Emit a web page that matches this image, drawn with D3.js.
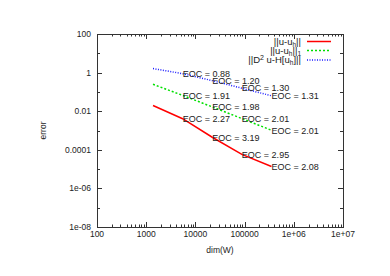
<!DOCTYPE html>
<html lang="en">
<head>
<meta charset="utf-8">
<title>EOC plot</title>
<style type="text/css">
	body { margin: 0; padding: 0; background: white; }
	svg { display: block; font-family: 'Liberation Sans', Arial, sans-serif; }
	.tick-label { font-size: 8.5px; fill: #222; }
	.eoc { font-size: 9px; fill: #222; }
	.legend text { font-size: 9.5px; fill: #222; }
</style>
</head>
<body>
<div id="chart"></div>
<script src="https://d3js.org/d3.v7.min.js"></script>
<script type="text/javascript">

	// degrees of freedom per refinement level
	const dims = [1375, 5500, 22000, 88000, 352000];

	// error norms per level
	const errL2 = [0.0197, 0.004085, 0.0004476, 0.00005793, 0.00001370];
	const errH1 = [0.248, 0.066, 0.01673, 0.004154, 0.001031];
	const errH2 = [1.62, 0.88, 0.383, 0.156, 0.0628];

	// experimental orders of convergence (shown at levels 1..4)
	const eocL2 = ["2.27", "3.19", "2.95", "2.08"];
	const eocH1 = ["1.91", "1.98", "2.01", "2.01"];
	const eocH2 = ["0.88", "1.20", "1.30", "1.31"];

	const xTicks = [100, 1000, 10000, 100000, 1e6, 1e7];
	const xTickLabels = ["100", "1000", "10000", "100000", "1e+06", "1e+07"];
	const yTicks = [100, 1, 0.01, 0.0001, 1e-6, 1e-8];
	const yTickLabels = ["100", "1", "0.01", "0.0001", "1e-06", "1e-08"];

	const width = 390,
		height = 276,
		padLeft = 97, padRight = 343, padTop = 34, padBottom = 227;

	const svg = d3.select("#chart")
		.append("svg")
		.attr("width", width)
		.attr("height", height);

	const xScale = d3.scaleLog()
		.domain([100, 1e7])
		.range([padLeft, padRight]);

	const yScale = d3.scaleLog()
		.domain([1e-8, 100])
		.range([padBottom, padTop]);

	const axisColor = "#333";
	const ticks = svg.append("g").attr("stroke", axisColor).attr("stroke-width", 1);

	// x ticks: major at decades, minor at 2..9
	xTicks.forEach(function(t, i){
		const x = Math.round(xScale(t)) + 0.5;
		ticks.append("line").attr("x1", x).attr("x2", x).attr("y1", padBottom).attr("y2", padBottom - 5);
		ticks.append("line").attr("x1", x).attr("x2", x).attr("y1", padTop).attr("y2", padTop + 5);
		svg.append("text")
			.attr("class", "tick-label")
			.attr("x", xScale(t))
			.attr("y", padBottom + 10)
			.attr("text-anchor", "middle")
			.text(xTickLabels[i]);
		if (i < xTicks.length - 1) {
			d3.range(2, 10).forEach(function(m){
				const xm = Math.round(xScale(t * m)) + 0.5;
				ticks.append("line").attr("x1", xm).attr("x2", xm).attr("y1", padBottom).attr("y2", padBottom - 2.5);
				ticks.append("line").attr("x1", xm).attr("x2", xm).attr("y1", padTop).attr("y2", padTop + 2.5);
			});
		}
	});

	// y ticks: labelled every two decades, unlabelled in between
	yTicks.forEach(function(t, i){
		const y = Math.round(yScale(t)) + 0.5;
		ticks.append("line").attr("x1", padLeft).attr("x2", padLeft + 5).attr("y1", y).attr("y2", y);
		ticks.append("line").attr("x1", padRight).attr("x2", padRight - 5).attr("y1", y).attr("y2", y);
		svg.append("text")
			.attr("class", "tick-label")
			.attr("x", padLeft - 6)
			.attr("y", yScale(t) + 3)
			.attr("text-anchor", "end")
			.text(yTickLabels[i]);
		if (i < yTicks.length - 1) {
			const ym = Math.round(yScale(t / 10)) + 0.5;
			ticks.append("line").attr("x1", padLeft).attr("x2", padLeft + 3).attr("y1", ym).attr("y2", ym);
			ticks.append("line").attr("x1", padRight).attr("x2", padRight - 3).attr("y1", ym).attr("y2", ym);
		}
	});

	// border
	svg.append("rect")
		.attr("x", padLeft + 0.5)
		.attr("y", padTop + 0.5)
		.attr("width", padRight - padLeft)
		.attr("height", padBottom - padTop)
		.attr("fill", "none")
		.attr("stroke", axisColor);

	// axis titles
	svg.append("text")
		.attr("class", "tick-label")
		.attr("x", (padLeft + padRight) / 2)
		.attr("y", 253)
		.attr("text-anchor", "middle")
		.text("dim(W)");

	svg.append("text")
		.attr("class", "tick-label")
		.attr("transform", "translate(46," + ((padTop + padBottom) / 2) + ") rotate(-90)")
		.attr("text-anchor", "middle")
		.text("error");

	const series = [
		{values: errL2, eoc: eocL2, color: "#ff0000", dash: null, width: 1.5},
		{values: errH1, eoc: eocH1, color: "#00e000", dash: "2,2", width: 1.5},
		{values: errH2, eoc: eocH2, color: "#1a1aff", dash: "1,1.5", width: 1.5}
	];

	const line = d3.line()
		.x(function(d, i){ return xScale(dims[i]); })
		.y(function(d){ return yScale(d); });

	series.forEach(function(s){
		svg.append("path")
			.attr("d", line(s.values))
			.attr("fill", "none")
			.attr("stroke", s.color)
			.attr("stroke-width", s.width)
			.attr("stroke-dasharray", s.dash);
	});

	series.forEach(function(s){
		svg.selectAll(null)
			.data(s.eoc)
			.enter()
			.append("text")
			.attr("class", "eoc")
			.attr("x", function(_, i){ return xScale(dims[i + 1]); })
			.attr("y", function(_, i){ return yScale(s.values[i + 1]) + 3.3; })
			.text(function(d){ return "EOC = " + d; });
	});

	// legend
	const legend = svg.append("g").attr("class", "legend");
	const legendRows = [41.5, 50.5, 60];

	const l1 = legend.append("text").attr("x", 301).attr("y", legendRows[0] + 3).attr("text-anchor", "end");
	l1.append("tspan").text("||u-u");
	l1.append("tspan").attr("font-size", "6.5px").attr("dy", 2).text("h");
	l1.append("tspan").attr("dy", -2).text("||");

	const l2 = legend.append("text").attr("x", 301).attr("y", legendRows[1] + 3).attr("text-anchor", "end");
	l2.append("tspan").text("||u-u");
	l2.append("tspan").attr("font-size", "6.5px").attr("dy", 2).text("h");
	l2.append("tspan").attr("dy", -2).text("||");
	l2.append("tspan").attr("font-size", "6.5px").attr("dy", 2).text("1");

	const l3 = legend.append("text").attr("x", 301).attr("y", legendRows[2] + 3).attr("text-anchor", "end");
	l3.append("tspan").text("||D");
	l3.append("tspan").attr("font-size", "7px").attr("dy", -3).text("2");
	l3.append("tspan").attr("dy", 3).text(" u-H[u");
	l3.append("tspan").attr("font-size", "6.5px").attr("dy", 2).text("h");
	l3.append("tspan").attr("dy", -2).text("]||");

	series.forEach(function(s, i){
		legend.append("line")
			.attr("x1", 307)
			.attr("x2", 331)
			.attr("y1", legendRows[i])
			.attr("y2", legendRows[i])
			.attr("stroke", s.color)
			.attr("stroke-width", s.width)
			.attr("stroke-dasharray", s.dash);
	});

</script>
</body>
</html>
